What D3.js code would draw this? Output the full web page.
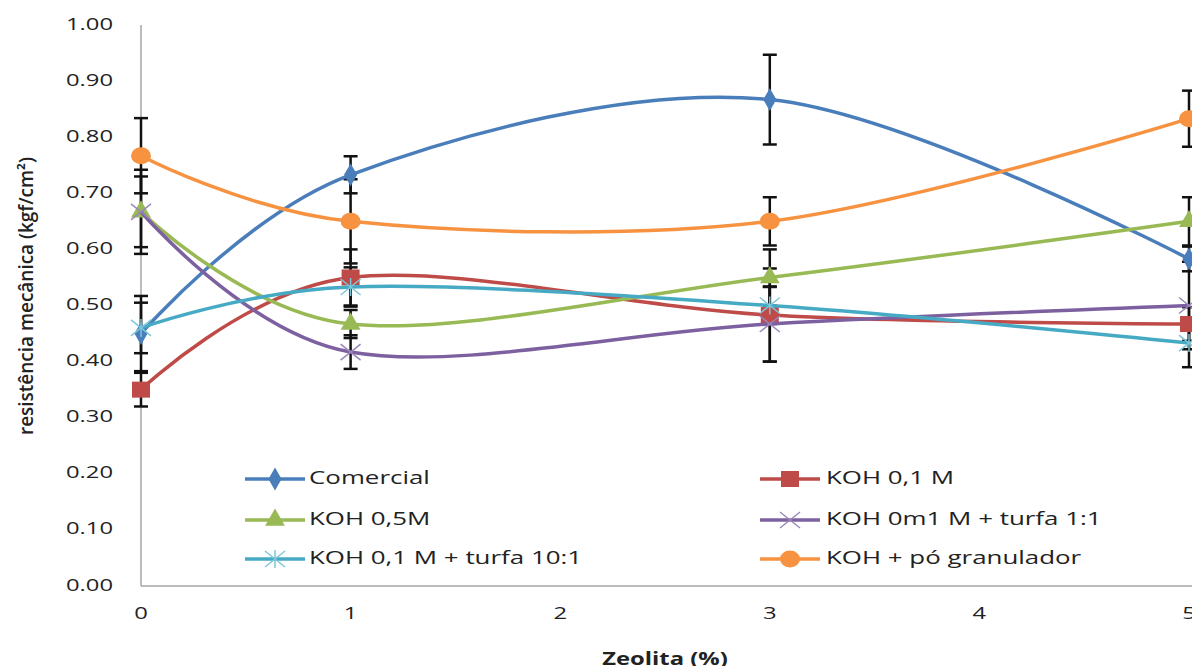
<!DOCTYPE html>
<html>
<head>
<meta charset="utf-8">
<script src="https://cdn.jsdelivr.net/npm/d3@7"></script>
<style>
  body { margin: 0; background: #fff; }
  svg { display: block; font-family: "Open Sans", sans-serif; }
</style>
</head>
<body>
<div id="chart"></div>
<script>
// zeolite content (%)
const zeolita = [0, 1, 3, 5];
const xTicks = [0, 1, 2, 3, 4, 5];
const yTicks = [0, 0.1, 0.2, 0.3, 0.4, 0.5, 0.6, 0.7, 0.8, 0.9, 1.0];

// series values + error bars
const comercial = [0.45, 0.733, 0.867, 0.583];
const comercialErr = [0.067, 0.033, 0.08, 0.022];
const koh01 = [0.35, 0.55, 0.483, 0.467];
const koh01Err = [0.03, 0.05, 0.083, 0.03];
const koh05 = [0.667, 0.467, 0.55, 0.65];
const koh05Err = [0.075, 0.025, 0.05, 0.043];
const turfa11 = [0.667, 0.417, 0.467, 0.5];
const turfa11Err = [0.063, 0.03, 0.067, 0.078];
const turfa101 = [0.46, 0.533, 0.5, 0.433];
const turfa101Err = [0.045, 0.035, 0.033, 0.043];
const poGranulador = [0.767, 0.65, 0.65, 0.833];
const poGranuladorErr = [0.067, 0.075, 0.043, 0.05];

const series = [
  { name: 'Comercial', values: comercial, err: comercialErr, color: '#4A7EBB', marker: 'diamond' },
  { name: 'KOH 0,1 M', values: koh01, err: koh01Err, color: '#BE4B48', marker: 'square' },
  { name: 'KOH 0,5M', values: koh05, err: koh05Err, color: '#98B954', marker: 'triangle' },
  { name: 'KOH 0m1 M + turfa  1:1', values: turfa11, err: turfa11Err, color: '#7D60A0', marker: 'x' },
  { name: 'KOH 0,1 M + turfa 10:1', values: turfa101, err: turfa101Err, color: '#46AAC5', marker: 'star' },
  { name: 'KOH + pó granulador', values: poGranulador, err: poGranuladorErr, color: '#F69240', marker: 'circle' }
];

const width = 1192, height = 666;
const margin = { top: 25, left: 141, right: 2, bottom: 80 };
const stretch = 1.4; // the original figure is widened horizontally

const svg = d3.select('#chart').append('svg')
  .attr('width', width)
  .attr('height', height);

const x = d3.scaleLinear().domain([0, 5]).range([margin.left, 1189]);
const y = d3.scaleLinear().domain([0, 1]).range([height - margin.bottom, margin.top]);

// axes (no tick marks, grey lines)
svg.append('line')
  .attr('x1', x(0)).attr('x2', x(0))
  .attr('y1', y(1)).attr('y2', y(0))
  .attr('stroke', '#a6a6a6').attr('stroke-width', 1.5);
svg.append('line')
  .attr('x1', x(0)).attr('x2', width)
  .attr('y1', y(0)).attr('y2', y(0))
  .attr('stroke', '#a6a6a6').attr('stroke-width', 1.5);

svg.selectAll('.ytick')
  .data(yTicks)
  .enter().append('text')
  .attr('transform', d => `translate(113,${y(d)}) scale(${stretch},1)`)
  .attr('text-anchor', 'end')
  .attr('dominant-baseline', 'middle')
  .style('font-size', '17px')
  .style('fill', '#222')
  .text(d => d.toFixed(2));

svg.selectAll('.xtick')
  .data(xTicks)
  .enter().append('text')
  .attr('transform', d => `translate(${x(d)},614) scale(${stretch},1)`)
  .attr('text-anchor', 'middle')
  .attr('dominant-baseline', 'middle')
  .style('font-size', '17px')
  .style('fill', '#222')
  .text(d => d);

// axis titles
svg.append('text')
  .attr('transform', `translate(665,665) scale(${stretch},1)`)
  .attr('text-anchor', 'middle')
  .style('font-size', '17px')
  .style('font-weight', 'bold')
  .style('fill', '#222')
  .text('Zeolita (%)');

svg.append('text')
  .attr('transform', 'translate(28,296) rotate(-90) scale(1,1.4)')
  .attr('text-anchor', 'middle')
  .attr('dominant-baseline', 'middle')
  .attr('textLength', 278)
  .attr('lengthAdjust', 'spacingAndGlyphs')
  .style('font-size', '14px')
  .style('font-weight', '600')
  .style('fill', '#222')
  .text('resistência mecânica (kgf/cm²)');

function drawMarker(g, kind, color) {
  if (kind === 'diamond') {
    g.append('path').attr('d', d3.symbol(d3.symbolDiamond, 150)()).attr('fill', color);
  } else if (kind === 'square') {
    g.append('rect').attr('x', -9).attr('y', -8).attr('width', 18).attr('height', 16).attr('fill', color);
  } else if (kind === 'triangle') {
    g.append('path').attr('d', d3.symbol(d3.symbolTriangle, 170)()).attr('fill', color);
  } else if (kind === 'circle') {
    g.append('ellipse').attr('rx', 10).attr('ry', 8.5).attr('fill', color);
  } else if (kind === 'x' || kind === 'star') {
    const c = kind === 'x' ? '#9a86bb' : '#7cc6da';
    g.append('line').attr('x1', -10).attr('y1', -8).attr('x2', 10).attr('y2', 8).attr('stroke', c).attr('stroke-width', 1.5);
    g.append('line').attr('x1', -10).attr('y1', 8).attr('x2', 10).attr('y2', -8).attr('stroke', c).attr('stroke-width', 1.5);
    if (kind === 'star') {
      g.append('line').attr('x1', 0).attr('y1', -9).attr('x2', 0).attr('y2', 9).attr('stroke', c).attr('stroke-width', 1.5);
    }
  }
}

const line = d3.line()
  .x((d, i) => x(zeolita[i]))
  .y(d => y(d))
  .curve(d3.curveCatmullRom.alpha(0));

// error bars
const errG = svg.append('g');
series.forEach(s => {
  s.values.forEach((v, i) => {
    const cx = x(zeolita[i]);
    const lo = y(v - s.err[i]), hi = y(v + s.err[i]);
    errG.append('line').attr('x1', cx).attr('x2', cx).attr('y1', lo).attr('y2', hi)
      .attr('stroke', '#111').attr('stroke-width', 2.5);
    [lo, hi].forEach(yy => {
      errG.append('line').attr('x1', cx - 7).attr('x2', cx + 7).attr('y1', yy).attr('y2', yy)
        .attr('stroke', '#111').attr('stroke-width', 2.5);
    });
  });
});

// lines + markers
series.forEach(s => {
  svg.append('path')
    .datum(s.values)
    .attr('d', line)
    .attr('fill', 'none')
    .attr('stroke', s.color)
    .attr('stroke-width', 3.5);
  s.values.forEach((v, i) => {
    const g = svg.append('g').attr('transform', `translate(${x(zeolita[i])},${y(v)})`);
    drawMarker(g, s.marker, s.color);
  });
});

// legend, two columns
const legendRows = [479, 520, 559];
const legendCols = [245, 760];
series.forEach((s, i) => {
  const lx = legendCols[i % 2];
  const ly = legendRows[Math.floor(i / 2)];
  const g = svg.append('g').attr('transform', `translate(${lx},${ly})`);
  g.append('line').attr('x1', 0).attr('x2', 60).attr('stroke', s.color).attr('stroke-width', 3.5);
  drawMarker(g.append('g').attr('transform', 'translate(30,0)'), s.marker, s.color);
  g.append('text')
    .attr('transform', `translate(${i % 2 === 0 ? 64 : 66},0) scale(${stretch},1)`)
    .attr('dominant-baseline', 'middle')
    .style('font-size', '18.5px')
    .style('fill', '#222')
    .text(s.name);
});
</script>
</body>
</html>
